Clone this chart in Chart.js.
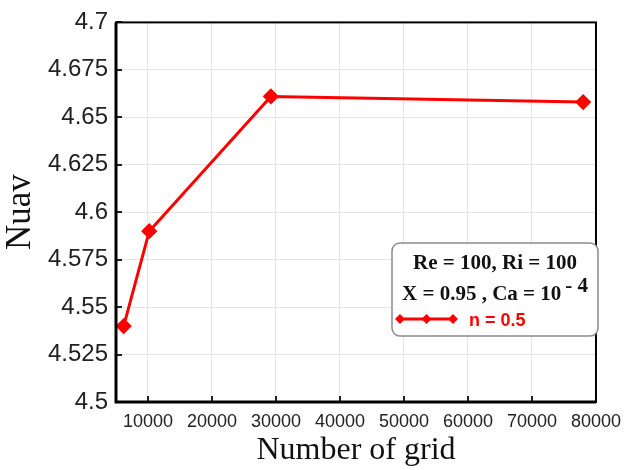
<!DOCTYPE html>
<html>
<head>
<meta charset="utf-8">
<script src="https://cdn.jsdelivr.net/npm/chart.js@4/dist/chart.umd.min.js"></script>
<style>
  html, body { margin: 0; padding: 0; background: #fff; }
  #wrap { width: 630px; height: 470px; }
</style>
</head>
<body>
<div id="wrap"><canvas id="c" width="630" height="470"></canvas></div>
<script>
const gridCounts = [6200, 10200, 29200, 78000];
const nuavValues = [4.540, 4.590, 4.661, 4.658];
const seriesLabel = 'n = 0.5';
const legendLine1 = 'Re = 100, Ri = 100';
const legendLine2 = 'X = 0.95 , Ca = 10';
const legendSup = '- 4';
const xTitle = 'Number of grid';
const yTitle = 'Nuav';

const points = gridCounts.map((x, i) => ({ x: x, y: nuavValues[i] }));

const framePlugin = {
  id: 'frame',
  afterDraw(chart) {
    const ctx = chart.ctx;
    const a = chart.chartArea;
    const xs = chart.scales.x, ys = chart.scales.y;
    ctx.save();
    // inward tick marks
    ctx.strokeStyle = '#222';
    ctx.lineWidth = 2;
    xs.ticks.forEach(t => {
      const px = Math.round(xs.getPixelForValue(t.value));
      ctx.beginPath(); ctx.moveTo(px, a.bottom); ctx.lineTo(px, a.bottom - 6); ctx.stroke();
    });
    ys.ticks.forEach(t => {
      const py = Math.round(ys.getPixelForValue(t.value));
      ctx.beginPath(); ctx.moveTo(a.left, py); ctx.lineTo(a.left + 6, py); ctx.stroke();
    });
    // frame
    ctx.strokeStyle = '#000';
    ctx.lineWidth = 2;
    ctx.strokeRect(a.left, a.top, a.right - a.left, a.bottom - a.top);
    ctx.lineWidth = 3;
    ctx.beginPath(); ctx.moveTo(a.left, a.top); ctx.lineTo(a.left, a.bottom); ctx.lineTo(a.right, a.bottom); ctx.stroke();

    // legend box
    const bx = 392, by = 243, bw = 206, bh = 93, r = 8;
    ctx.fillStyle = '#fff';
    ctx.strokeStyle = '#8a8a8a';
    ctx.lineWidth = 1.5;
    ctx.beginPath();
    ctx.roundRect(bx, by, bw, bh, r);
    ctx.fill(); ctx.stroke();

    ctx.fillStyle = '#111';
    ctx.textBaseline = 'alphabetic';
    ctx.font = 'bold 21px "Liberation Serif", "Times New Roman", serif';
    ctx.textAlign = 'center';
    ctx.fillText(legendLine1, bx + bw / 2, 269);
    ctx.textAlign = 'left';
    const w2 = ctx.measureText(legendLine2).width;
    ctx.font = 'bold 21px "Liberation Serif", "Times New Roman", serif';
    const supW = ctx.measureText(legendSup).width;
    const sx = bx + (bw - (w2 + 4 + supW)) / 2;
    ctx.fillText(legendLine2, sx, 300);
    ctx.fillText(legendSup, sx + w2 + 4, 292);

    // series sample
    ctx.strokeStyle = '#ff0000';
    ctx.fillStyle = '#ff0000';
    ctx.lineWidth = 3;
    const ly = 319;
    ctx.beginPath(); ctx.moveTo(400, ly); ctx.lineTo(453, ly); ctx.stroke();
    [400, 426.5, 453].forEach(px => {
      ctx.beginPath();
      ctx.moveTo(px, ly - 5); ctx.lineTo(px + 5, ly); ctx.lineTo(px, ly + 5); ctx.lineTo(px - 5, ly); ctx.closePath();
      ctx.fill();
    });
    ctx.font = 'bold 18px "Liberation Sans", Arial, sans-serif';
    ctx.fillText(seriesLabel, 469, 326);
    ctx.restore();
  }
};

new Chart(document.getElementById('c'), {
  type: 'line',
  data: {
    datasets: [{
      label: seriesLabel,
      data: points,
      borderColor: '#ff0000',
      backgroundColor: '#ff0000',
      borderWidth: 3,
      pointStyle: 'rectRot',
      pointRadius: 6,
      pointHoverRadius: 6,
      tension: 0,
      fill: false
    }]
  },
  options: {
    responsive: false,
    animation: false,
    devicePixelRatio: 1,
    layout: { padding: { top: 20, right: 28, left: 0, bottom: 0 } },
    plugins: { legend: { display: false }, tooltip: { enabled: false } },
    scales: {
      x: {
        type: 'linear',
        min: 5000, max: 80000,
        afterBuildTicks(scale) {
          scale.ticks = [10000, 20000, 30000, 40000, 50000, 60000, 70000, 80000].map(v => ({ value: v }));
        },
        afterFit(scale) { scale.height = 68; },
        grid: { color: '#e4e4e4', lineWidth: 1, drawTicks: false },
        border: { display: false },
        ticks: {
          color: '#222',
          padding: 9,
          maxRotation: 0,
          autoSkip: false,
          font: { family: '"Liberation Sans", Arial, sans-serif', size: 18 },
          callback: v => String(v)
        },
        title: {
          display: true,
          text: xTitle,
          color: '#111',
          font: { family: '"Liberation Serif", "Times New Roman", serif', size: 32 },
          padding: { top: 0, bottom: 0 }
        }
      },
      y: {
        type: 'linear',
        min: 4.5, max: 4.7,
        afterBuildTicks(scale) {
          scale.ticks = [4.5, 4.525, 4.55, 4.575, 4.6, 4.625, 4.65, 4.675, 4.7].map(v => ({ value: v }));
        },
        afterFit(scale) { scale.width = 116; },
        grid: { color: '#e4e4e4', lineWidth: 1, drawTicks: false },
        border: { display: false },
        ticks: {
          color: '#222',
          padding: 8,
          autoSkip: false,
          font: { family: '"Liberation Sans", Arial, sans-serif', size: 24 },
          callback: v => String(+v.toFixed(3))
        },
        title: {
          display: true,
          text: yTitle,
          color: '#111',
          font: { family: '"Liberation Serif", "Times New Roman", serif', size: 35 },
          padding: { top: 0, bottom: 0 }
        }
      }
    }
  },
  plugins: [framePlugin]
});
</script>
</body>
</html>
